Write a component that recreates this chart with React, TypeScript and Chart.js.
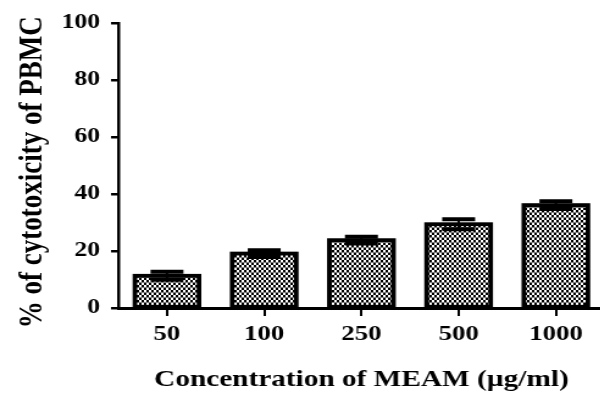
import React, { useEffect, useRef } from "react";
import { Chart, registerables } from "chart.js";

Chart.register(...registerables);

const categories = ["50", "100", "250", "500", "1000"];
const meanValues = [11.3, 19.1, 23.8, 29.4, 36.1];
const semValues = [1.4, 1.2, 1.2, 1.75, 1.4];
const yTicks = [0, 20, 40, 60, 80, 100];
const xTitle = "Concentration of MEAM (µg/ml)";
const yTitle = "% of cytotoxicity of PBMC";

const STRETCH = 1.22;
const FAMILY = "'Liberation Serif', 'Times New Roman', serif";

function makePattern(ctx: CanvasRenderingContext2D) {
  const c = document.createElement("canvas");
  c.width = 4;
  c.height = 5;
  const p = c.getContext("2d")!;
  p.fillStyle = "#fff";
  p.fillRect(0, 0, 4, 5);
  p.fillStyle = "#000";
  p.fillRect(0, 0, 2, 2.5);
  p.fillRect(2, 2.5, 2, 2.5);
  return ctx.createPattern(c, "repeat");
}

const barDecor = {
  id: "barDecor",
  afterDatasetsDraw(chart: any) {
    const ctx = chart.ctx as CanvasRenderingContext2D;
    const meta = chart.getDatasetMeta(0);
    const ys = chart.scales.y;
    ctx.save();
    ctx.strokeStyle = "#000";
    meta.data.forEach((bar: any, i: number) => {
      const { x, y, width, base } = bar.getProps(["x", "y", "width", "base"], true);
      ctx.lineWidth = 3.8;
      ctx.strokeRect(x - width / 2, y, width, base - y);
      const hi = ys.getPixelForValue(meanValues[i] + semValues[i]);
      const lo = ys.getPixelForValue(meanValues[i] - semValues[i]);
      ctx.lineWidth = 2;
      ctx.beginPath();
      ctx.moveTo(x, hi);
      ctx.lineTo(x, lo);
      ctx.stroke();
      ctx.lineWidth = 4;
      const half = 13.5;
      ctx.beginPath();
      ctx.moveTo(x - half, hi);
      ctx.lineTo(x + half, hi);
      ctx.moveTo(x - half, lo);
      ctx.lineTo(x + half, lo);
      ctx.stroke();
    });
    ctx.restore();
  },
};

export default function App() {
  const ref = useRef<HTMLCanvasElement | null>(null);
  useEffect(() => {
    const canvas = ref.current!;
    const ctx = canvas.getContext("2d")!;
    const pattern = makePattern(ctx);
    const chart = new Chart(ctx, {
      type: "bar",
      data: {
        labels: categories,
        datasets: [
          {
            data: meanValues,
            backgroundColor: pattern as any,
            borderWidth: 0,
            barPercentage: 0.659,
            categoryPercentage: 1,
          },
        ],
      },
      options: {
        animation: false,
        responsive: false,
        devicePixelRatio: 1,
        layout: { padding: { top: 23, right: 8.5, left: 0, bottom: 0 } },
        plugins: { legend: { display: false }, tooltip: { enabled: false } },
        scales: {
          x: {
            offset: true,
            grid: {
              display: true,
              drawOnChartArea: false,
              drawTicks: true,
              tickLength: 8,
              lineWidth: 2,
              color: "#000",
              offset: false,
            },
            border: { display: true, color: "#000", width: 3 },
            ticks: {
              color: "#000",
              font: { family: FAMILY, size: 22, weight: "bold" },
              padding: 5,
              maxRotation: 0,
            },
            title: {
              display: true,
              text: xTitle,
              color: "#000",
              font: { family: FAMILY, size: 24, weight: "bold" },
              padding: { top: 0, bottom: -1 },
            },
            afterFit: (s: any) => {
              s.height = 85;
            },
          },
          y: {
            min: 0,
            max: 100,
            afterBuildTicks: (s: any) => {
              s.ticks = yTicks.map((v) => ({ value: v }));
            },
            ticks: {
              color: "#000",
              font: { family: FAMILY, size: 21, weight: "bold" },
              padding: 9,
            },
            grid: {
              drawOnChartArea: false,
              drawTicks: true,
              tickLength: 6,
              lineWidth: 2.5,
              color: "#000",
            },
            border: { display: true, color: "#000", width: 2.5 },
            title: {
              display: true,
              text: yTitle + "  ",
              color: "#000",
              font: { family: FAMILY, size: 27, weight: "bold" },
              padding: { top: 11, bottom: 0 },
            },
            afterFit: (s: any) => {
              s.width = 97;
            },
          },
        },
      },
      plugins: [barDecor],
    });
    return () => chart.destroy();
  }, []);
  return (
    <div
      style={{
        position: "fixed",
        left: 0,
        top: 0,
        width: 600,
        height: 393,
        overflow: "hidden",
        background: "#fff",
      }}
    >
      <canvas
        ref={ref}
        width={504}
        height={393}
        style={{
          display: "block",
          transform: `scaleX(${STRETCH})`,
          transformOrigin: "0 0",
        }}
      />
    </div>
  );
}
